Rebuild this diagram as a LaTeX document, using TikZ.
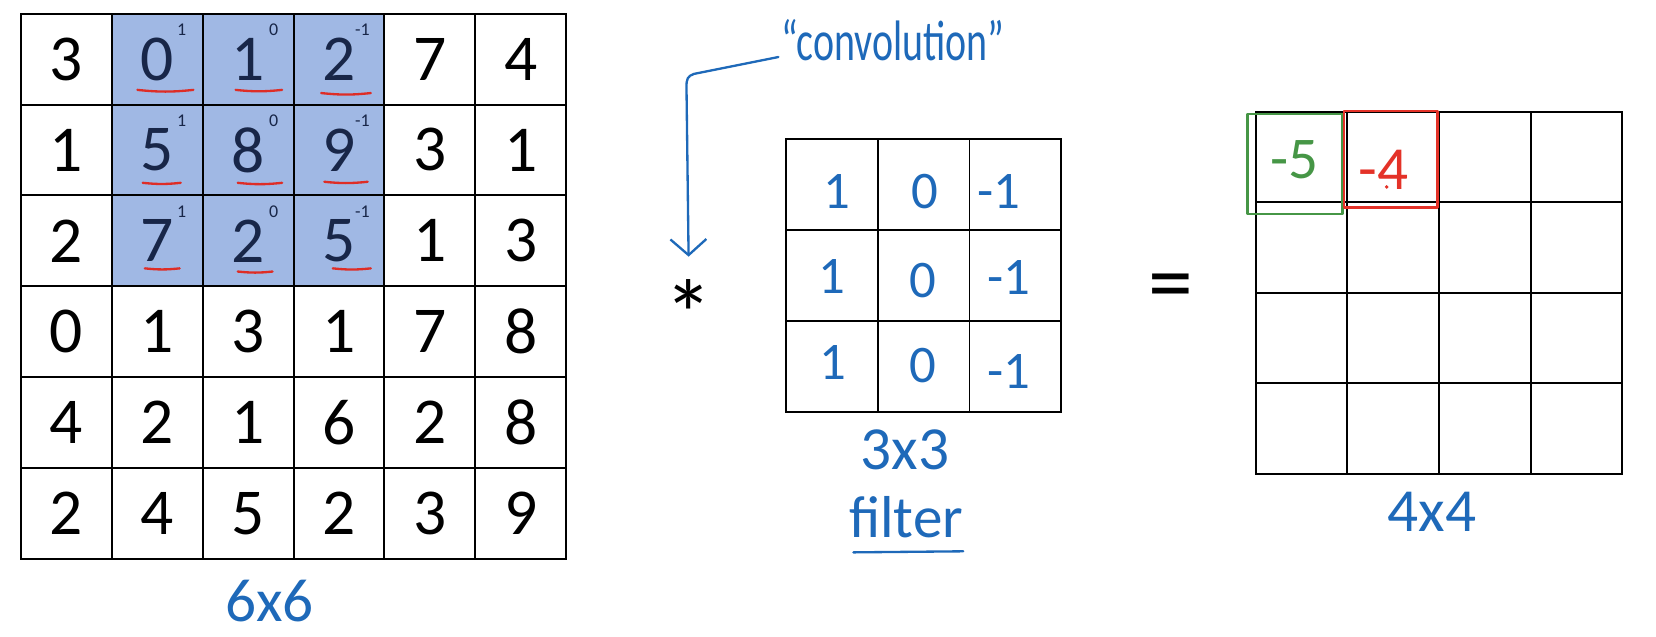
\documentclass[tikz,border=0pt]{standalone}
\usepackage{fontspec}
\usepackage{graphicx}
\setmainfont{Carlito}
\usetikzlibrary{calc,arrows.meta}
\definecolor{hlfill}{RGB}{160,184,228}
\definecolor{navy}{RGB}{24,38,72}
\definecolor{handblue}{RGB}{30,105,185}
\definecolor{ulred}{RGB}{222,45,38}
\definecolor{boxgreen}{RGB}{70,150,70}
\definecolor{boxred}{RGB}{228,50,40}
\begin{document}
\begin{tikzpicture}[x=1pt,y=-1pt,
  gridcell/.style={draw=black, line width=1.8pt, minimum width=86pt, minimum height=86pt, inner sep=0pt, font=\fontsize{62}{62}\selectfont},
  hlcell/.style={gridcell, fill=hlfill, text=navy},
  supnum/.style={inner sep=0pt, text=navy, font=\fontsize{17}{17}\selectfont},
  ul/.style={draw=ulred, line width=2.2pt, line cap=round},
  hand/.style={draw=handblue, line width=2.2pt, line cap=round, line join=round},
  handtext/.style={text=handblue, inner sep=0pt},
  fcell/.style={draw=black, line width=1.8pt, minimum width=87pt, minimum height=86pt, inner sep=0pt},
  ocell/.style={draw=black, line width=1.8pt, minimum width=86.8pt, minimum height=85.6pt, inner sep=0pt},
  fnum/.style={handtext, font=\fontsize{50}{50}\selectfont},
  bignum/.style={handtext, font=\fontsize{58}{58}\selectfont},
]
\useasboundingbox (0,0) rectangle (1568,603);
\fill[white] (0,0) rectangle (1568,603);

% ---------- 6x6 input ----------
\foreach \r/\row in {0/{3,0,1,2,7,4},1/{1,5,8,9,3,1},2/{2,7,2,5,1,3},3/{0,1,3,1,7,8},4/{4,2,1,6,2,8},5/{2,4,5,2,3,9}}{
  \foreach \v [count=\c from 0] in \row {
    \pgfmathtruncatemacro\hl{and(\r<3, and(\c>0,\c<4))}
    \ifnum\hl=1
      \node[hlcell] (a-\r-\c) at ({63+86*\c},{56+86*\r}) {\v};
    \else
      \node[gridcell] (a-\r-\c) at ({63+86*\c},{56+86*\r}) {\v};
    \fi
  }
}
% filter weights as superscripts
\foreach \r in {0,1,2}{
  \node[supnum] (s-\r-1) at ($(a-\r-1.north west)+(67,16)$) {1};
  \node[supnum] (s-\r-2) at ($(a-\r-2.north west)+(68,16)$) {0};
  \node[supnum] (s-\r-3) at ($(a-\r-3.north west)+(66,16)$) {-1};
}
% red underlines
\foreach \r/\c/\xa/\xb/\yy in {0/1/25/78/73, 0/2/32/76/73, 0/3/27/74/76,
                               1/1/30/66/75, 1/2/34/76/75, 1/3/30/71/74,
                               2/1/32/65/70, 2/2/34/67/73, 2/3/38/74/70}{
  \draw[ul] ($(a-\r-\c.north west)+(\xa,\yy)$) to[bend right=6] ($(a-\r-\c.north west)+(\xb,\yy)$);
}
\node[bignum] (lbl66) at (255,569) {6x6};

% ---------- convolution label and arrow ----------
\node[handtext, anchor=base west, font=\fontsize{54}{54}\selectfont] (conv) at (740,57) {\scalebox{0.7}[1]{``convolution''}};
\coordinate (cvstart) at (737,54);
\coordinate (cvend) at (652,243);
\draw[hand, -{Straight Barb[length=15pt,width=34pt]}] (cvstart) -- (657,70) .. controls (651,72) and (650,75) .. (650,82) -- (cvend);
\node[anchor=north, inner sep=0pt, font=\fontsize{92}{92}\selectfont] (star) at (652,264) {*};

% ---------- 3x3 filter ----------
\foreach \r in {0,1,2}{
  \foreach \c in {0,1,2}{
    \node[fcell] (f-\r-\c) at ({787.5+87*\c},{175+86*\r}) {};
  }
}
\node[fnum] (w-0-0) at (792,181) {1};
\node[fnum] (w-0-1) at (876,181) {0};
\node[fnum] (w-0-2) at (946,181) {-1};
\node[fnum] (w-1-0) at (788,262) {1};
\node[fnum] (w-1-1) at (874,266) {0};
\node[fnum] (w-1-2) at (955,263) {-1};
\node[fnum] (w-2-0) at (789,343) {1};
\node[fnum] (w-2-1) at (874,346) {0};
\node[fnum] (w-2-2) at (955,352) {-1};
\node[bignum] (lbl33) at (857,426) {3x3};
\node[handtext, font=\fontsize{56}{56}\selectfont] (filt) at (858,490) {filter};
\draw[hand] (808,523) -- (912,522);

% ---------- equals ----------
\node[anchor=north, inner sep=0pt, font=\fontsize{85}{85}\selectfont] (eq) at (1109,259) {=};

% ---------- 4x4 output ----------
\foreach \r in {0,1,2,3}{
  \foreach \c in {0,1,2,3}{
    \node[ocell] (o-\r-\c) at ({1232.4+86.8*\c},{148.8+85.6*\r}) {};
  }
}
\draw[boxgreen, line width=2.4pt, line join=round] ($(o-0-0.north west)+(-7,3)$) rectangle ($(o-0-0.south east)+(-5.5,10)$);
\draw[boxred, line width=2.4pt, line join=round] ($(o-0-1.north west)+(-2.5,0)$) rectangle ($(o-0-1.south east)+(-2.5,4)$);
\node[text=boxgreen, inner sep=0pt, font=\fontsize{56}{56}\selectfont] (r00) at (1226,151) {-5};
\node[text=boxred, inner sep=0pt, font=\fontsize{58}{58}\selectfont] (r01) at (1310,161) {-4};
\fill[boxred] (1313,177) circle (1.8);
\node[bignum] (lbl44) at (1356,485) {4x4};
\end{tikzpicture}
\end{document}
